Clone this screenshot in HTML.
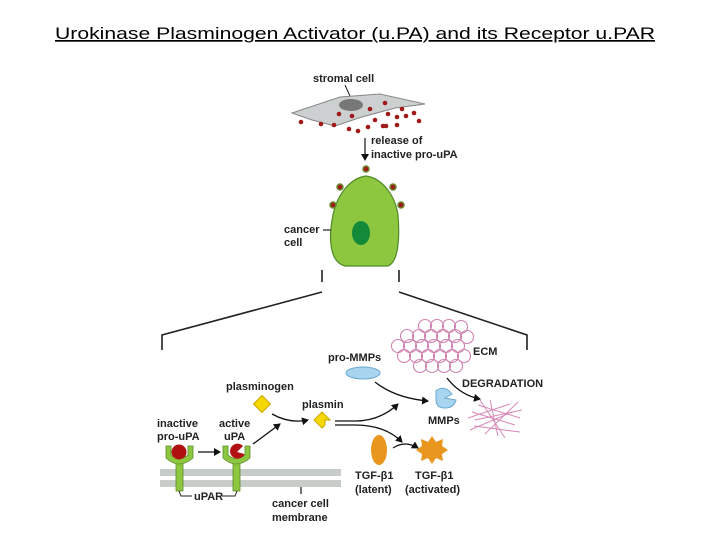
<!DOCTYPE html>
<html><head><meta charset="utf-8"><style>
html,body{margin:0;padding:0;background:#fff;}
svg{display:block;}
text{font-family:"Liberation Sans",sans-serif;}
.l{font-size:11px;font-weight:bold;fill:#222;}
</style></head><body>
<svg width="720" height="540" viewBox="0 0 720 540" xmlns="http://www.w3.org/2000/svg">
<defs>
<marker id="a" markerWidth="8" markerHeight="8" refX="6" refY="4" orient="auto" markerUnits="userSpaceOnUse"><path d="M0,0 L7,4 L0,8 Z" fill="#111"/></marker>
</defs>
<text x="355" y="39" text-anchor="middle" font-size="17" textLength="600" lengthAdjust="spacingAndGlyphs" text-decoration="underline" fill="#000">Urokinase Plasminogen Activator (u.PA) and its Receptor u.PAR</text>

<!-- stromal cell -->
<text class="l" x="313" y="82">stromal cell</text>
<line x1="345" y1="85" x2="350" y2="96" stroke="#222" stroke-width="1"/>
<path d="M292,113 L340,97 L380,94 L425,104 L395,108 L362,117 L335,126 L312,120 Z" fill="#ccd0d0" stroke="#888" stroke-width="1"/>
<ellipse cx="351" cy="105" rx="12" ry="6" fill="#777"/>
<g fill="#a01818">
<circle cx="301" cy="122" r="2.3"/><circle cx="321" cy="124" r="2.3"/><circle cx="334" cy="125" r="2.3"/><circle cx="349" cy="129" r="2.3"/><circle cx="358" cy="131" r="2.3"/><circle cx="368" cy="127" r="2.3"/><circle cx="339" cy="114" r="2.3"/><circle cx="352" cy="116" r="2.3"/><circle cx="370" cy="109" r="2.3"/><circle cx="385" cy="103" r="2.3"/><circle cx="402" cy="109" r="2.3"/><circle cx="388" cy="114" r="2.3"/><circle cx="397" cy="117" r="2.3"/><circle cx="406" cy="116" r="2.3"/><circle cx="414" cy="113" r="2.3"/><circle cx="419" cy="121" r="2.3"/><circle cx="397" cy="125" r="2.3"/><circle cx="386" cy="126" r="2.3"/><circle cx="375" cy="120" r="2.3"/><circle cx="383" cy="126" r="2.3"/>
</g>
<line x1="365" y1="138" x2="365" y2="160" stroke="#111" stroke-width="1.2" marker-end="url(#a)"/>
<text class="l" x="371" y="144">release of</text>
<text class="l" x="371" y="158">inactive pro-uPA</text>

<!-- cancer cell -->
<path d="M366,176 C350,178 337,195 333,215 C328,240 330,262 345,266 L388,266 C398,262 400,240 398,215 C395,195 382,178 366,176 Z" fill="#8dc63f" stroke="#4f8a25" stroke-width="1.2"/>
<ellipse cx="361" cy="233" rx="9" ry="12" fill="#128a3a"/>
<g fill="#a01818" stroke="#6a8a30" stroke-width="1.5">
<circle cx="366" cy="169" r="3"/><circle cx="340" cy="187" r="3"/><circle cx="333" cy="205" r="3"/><circle cx="393" cy="187" r="3"/><circle cx="401" cy="205" r="3"/>
</g>
<text class="l" x="284" y="233">cancer</text>
<text class="l" x="284" y="246">cell</text>
<line x1="323" y1="230" x2="331" y2="230" stroke="#222" stroke-width="1.2"/>

<!-- bracket -->
<g stroke="#222" stroke-width="1.6" fill="none">
<line x1="322" y1="270" x2="322" y2="282"/><line x1="399" y1="270" x2="399" y2="282"/>
<polyline points="162,350 162,335 322,292"/>
<polyline points="399,292 527,335 527,350"/>
</g>

<!-- membrane -->
<rect x="160" y="469" width="181" height="7" fill="#c8ccc8"/>
<rect x="160" y="480" width="181" height="7" fill="#c8ccc8"/>

<!-- receptors -->
<g fill="#8dc63f" stroke="#5a8a2a" stroke-width="0.8">
<path d="M176,462 L183,462 L183,491 L176,491 Z"/>
<path d="M166,446 L171,446 L171,455 Q179,462 188,455 L188,446 L193,446 L193,458 Q179,470 166,458 Z"/>
<path d="M233,462 L240,462 L240,491 L233,491 Z"/>
<path d="M223,446 L228,446 L228,455 Q236,462 245,455 L245,446 L250,446 L250,458 Q236,470 223,458 Z"/>
</g>
<circle cx="179" cy="452" r="7.5" fill="#b01010"/>
<path d="M237,452 L243,446 A7.5,7.5 0 1 0 244.5,454 Z" fill="#b01010"/>
<line x1="198" y1="452" x2="220" y2="452" stroke="#111" stroke-width="1.3" marker-end="url(#a)"/>
<text class="l" x="157" y="427">inactive</text>
<text class="l" x="157" y="440">pro-uPA</text>
<text class="l" x="219" y="427">active</text>
<text class="l" x="224" y="440">uPA</text>
<text class="l" x="194" y="500">uPAR</text>
<path d="M179,491 L181,496 L192,496 M222,496 L235,496 L237,491" stroke="#222" fill="none" stroke-width="1"/>
<line x1="301" y1="487" x2="301" y2="494" stroke="#222" stroke-width="1.3"/>
<text class="l" x="272" y="507">cancer cell</text>
<text class="l" x="272" y="521">membrane</text>

<!-- plasminogen -->
<text class="l" x="226" y="390">plasminogen</text>
<rect x="256" y="398" width="12" height="12" fill="#f5d800" stroke="#c8a800" transform="rotate(45 262 404)"/>
<line x1="253" y1="444" x2="280" y2="424" stroke="#111" stroke-width="1.3" marker-end="url(#a)"/>
<path d="M272,414 Q290,424 308,420" stroke="#111" fill="none" stroke-width="1.3" marker-end="url(#a)"/>
<text class="l" x="302" y="408">plasmin</text>
<path d="M322,412 L330,420 L325,420 L325,425 L322,428 L314,420 Z" fill="#f5d800" stroke="#c8a800"/>
<path d="M335,421 L355,421 Q380,421 398,404" stroke="#111" fill="none" stroke-width="1.3" marker-end="url(#a)"/>
<path d="M335,425 L355,425 Q385,425 402,442" stroke="#111" fill="none" stroke-width="1.3" marker-end="url(#a)"/>

<!-- MMPs -->
<text class="l" x="328" y="361">pro-MMPs</text>
<ellipse cx="363" cy="373" rx="17" ry="6" fill="#a8d4f0" stroke="#6aaad0"/>
<path d="M375,382 Q395,398 428,401" stroke="#111" fill="none" stroke-width="1.3" marker-end="url(#a)"/>
<path d="M436,391 Q442,386 448,390 L452,394 L445,398 L456,400 Q454,408 445,408 Q436,408 436,400 Z" fill="#a8d4f0" stroke="#6aaad0"/>
<text class="l" x="428" y="424">MMPs</text>

<!-- ECM -->
<g fill="none" stroke="#d080b0" stroke-width="1.1">
<circle cx="425" cy="326" r="6.5"/><circle cx="437" cy="326" r="6.5"/><circle cx="449" cy="326" r="6.5"/><circle cx="461" cy="327" r="6.5"/>
<circle cx="407" cy="336" r="6.5"/><circle cx="419" cy="336" r="6.5"/><circle cx="431" cy="336" r="6.5"/><circle cx="443" cy="336" r="6.5"/><circle cx="455" cy="336" r="6.5"/><circle cx="467" cy="337" r="6.5"/>
<circle cx="398" cy="346" r="6.5"/><circle cx="410" cy="346" r="6.5"/><circle cx="422" cy="346" r="6.5"/><circle cx="434" cy="346" r="6.5"/><circle cx="446" cy="346" r="6.5"/><circle cx="458" cy="346" r="6.5"/>
<circle cx="404" cy="356" r="6.5"/><circle cx="416" cy="356" r="6.5"/><circle cx="428" cy="356" r="6.5"/><circle cx="440" cy="356" r="6.5"/><circle cx="452" cy="356" r="6.5"/><circle cx="464" cy="356" r="6.5"/>
<circle cx="420" cy="366" r="6.5"/><circle cx="432" cy="366" r="6.5"/><circle cx="444" cy="366" r="6.5"/><circle cx="456" cy="366" r="6.5"/>
</g>
<text class="l" x="473" y="355">ECM</text>
<text class="l" x="462" y="387">DEGRADATION</text>
<path d="M447,378 Q460,395 480,399" stroke="#111" fill="none" stroke-width="1.3" marker-end="url(#a)"/>
<g stroke="#d88ab8" stroke-width="1">
<line x1="478" y1="405" x2="520" y2="418"/><line x1="472" y1="412" x2="515" y2="425"/><line x1="475" y1="420" x2="522" y2="410"/><line x1="470" y1="430" x2="512" y2="412"/><line x1="480" y1="400" x2="505" y2="438"/><line x1="490" y1="400" x2="498" y2="436"/><line x1="474" y1="426" x2="520" y2="432"/><line x1="485" y1="434" x2="518" y2="402"/><line x1="468" y1="418" x2="510" y2="404"/>
</g>

<!-- TGF -->
<ellipse cx="379" cy="450" rx="8" ry="15" fill="#e8961e"/>
<path d="M393,448 Q405,440 418,448" stroke="#111" fill="none" stroke-width="1.3" marker-end="url(#a)"/>
<polygon points="432,436 436,442 443,439 442,446 448,450 442,454 443,461 436,458 432,464 428,458 421,461 422,454 416,450 422,446 421,439 428,442" fill="#e8961e"/>
<text class="l" x="355" y="479">TGF-β1</text>
<text class="l" x="355" y="493" font-weight="normal">(latent)</text>
<text class="l" x="415" y="479">TGF-β1</text>
<text class="l" x="405" y="493">(activated)</text>
</svg>
</body></html>
